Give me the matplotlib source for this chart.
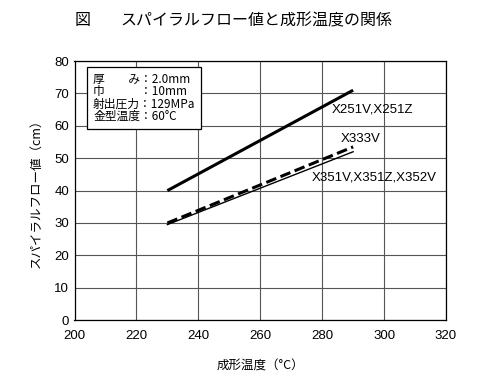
import matplotlib
matplotlib.use("Agg")
import matplotlib.pyplot as plt

plt.rcParams['font.family'] = ['Noto Sans CJK JP', 'DejaVu Sans']

# data
temp = [230, 290]
flow_x251 = [40, 71]
flow_x333 = [30, 53.5]
flow_x351 = [29.5, 52]

xticks = [200, 220, 240, 260, 280, 300, 320]
yticks = [0, 10, 20, 30, 40, 50, 60, 70, 80]

fig = plt.figure(figsize=(5, 3.89), dpi=100)
ax = fig.add_axes([0.149, 0.177, 0.743, 0.666])

ax.plot(temp, flow_x251, color='black', lw=2.2, solid_capstyle='butt')
ax.plot(temp, flow_x333, color='black', lw=2.2, ls=(0, (3.5, 1.5)))
ax.plot(temp, flow_x351, color='black', lw=1.0)

ax.text(283, 65, 'X251V,X251Z', fontsize=9.5, va='center', family='Liberation Sans')
ax.text(286, 56, 'X333V', fontsize=9.5, va='center', family='Liberation Sans')
ax.text(276.5, 44, 'X351V,X351Z,X352V', fontsize=9.5, va='center', family='Liberation Sans')

ax.set_xlim(200, 320)
ax.set_ylim(0, 80)
ax.set_xticks(xticks)
ax.set_yticks(yticks)
ax.tick_params(length=0, labelsize=9.5)
ax.tick_params(axis='x', pad=7)
ax.tick_params(axis='y', pad=4)
for lab in ax.get_xticklabels() + ax.get_yticklabels():
    lab.set_family('Liberation Sans')
ax.grid(True, color='#555555', lw=0.8)
for s in ax.spines.values():
    s.set_linewidth(0.9)

ax.set_xlabel('成形温度（°C）', fontsize=9, labelpad=13)
ax.set_ylabel('スパイラルフロー値（cm）', fontsize=9, labelpad=8)

info = ('厚　　み：2.0mm\n'
        '巾　　　：10mm\n'
        '射出圧力：129MPa\n'
        '金型温度：60°C')
ax.text(0.05, 0.955, info, transform=ax.transAxes, fontsize=8.5, va='top',
        linespacing=0.95,
        bbox=dict(boxstyle='square,pad=0.5', fc='white', ec='black', lw=0.9))

fig.text(0.15, 0.935, '図', fontsize=11.5)
fig.text(0.24, 0.935, 'スパイラルフロー値と成形温度の関係', fontsize=11.5)

fig.savefig('out.png', dpi=100)
